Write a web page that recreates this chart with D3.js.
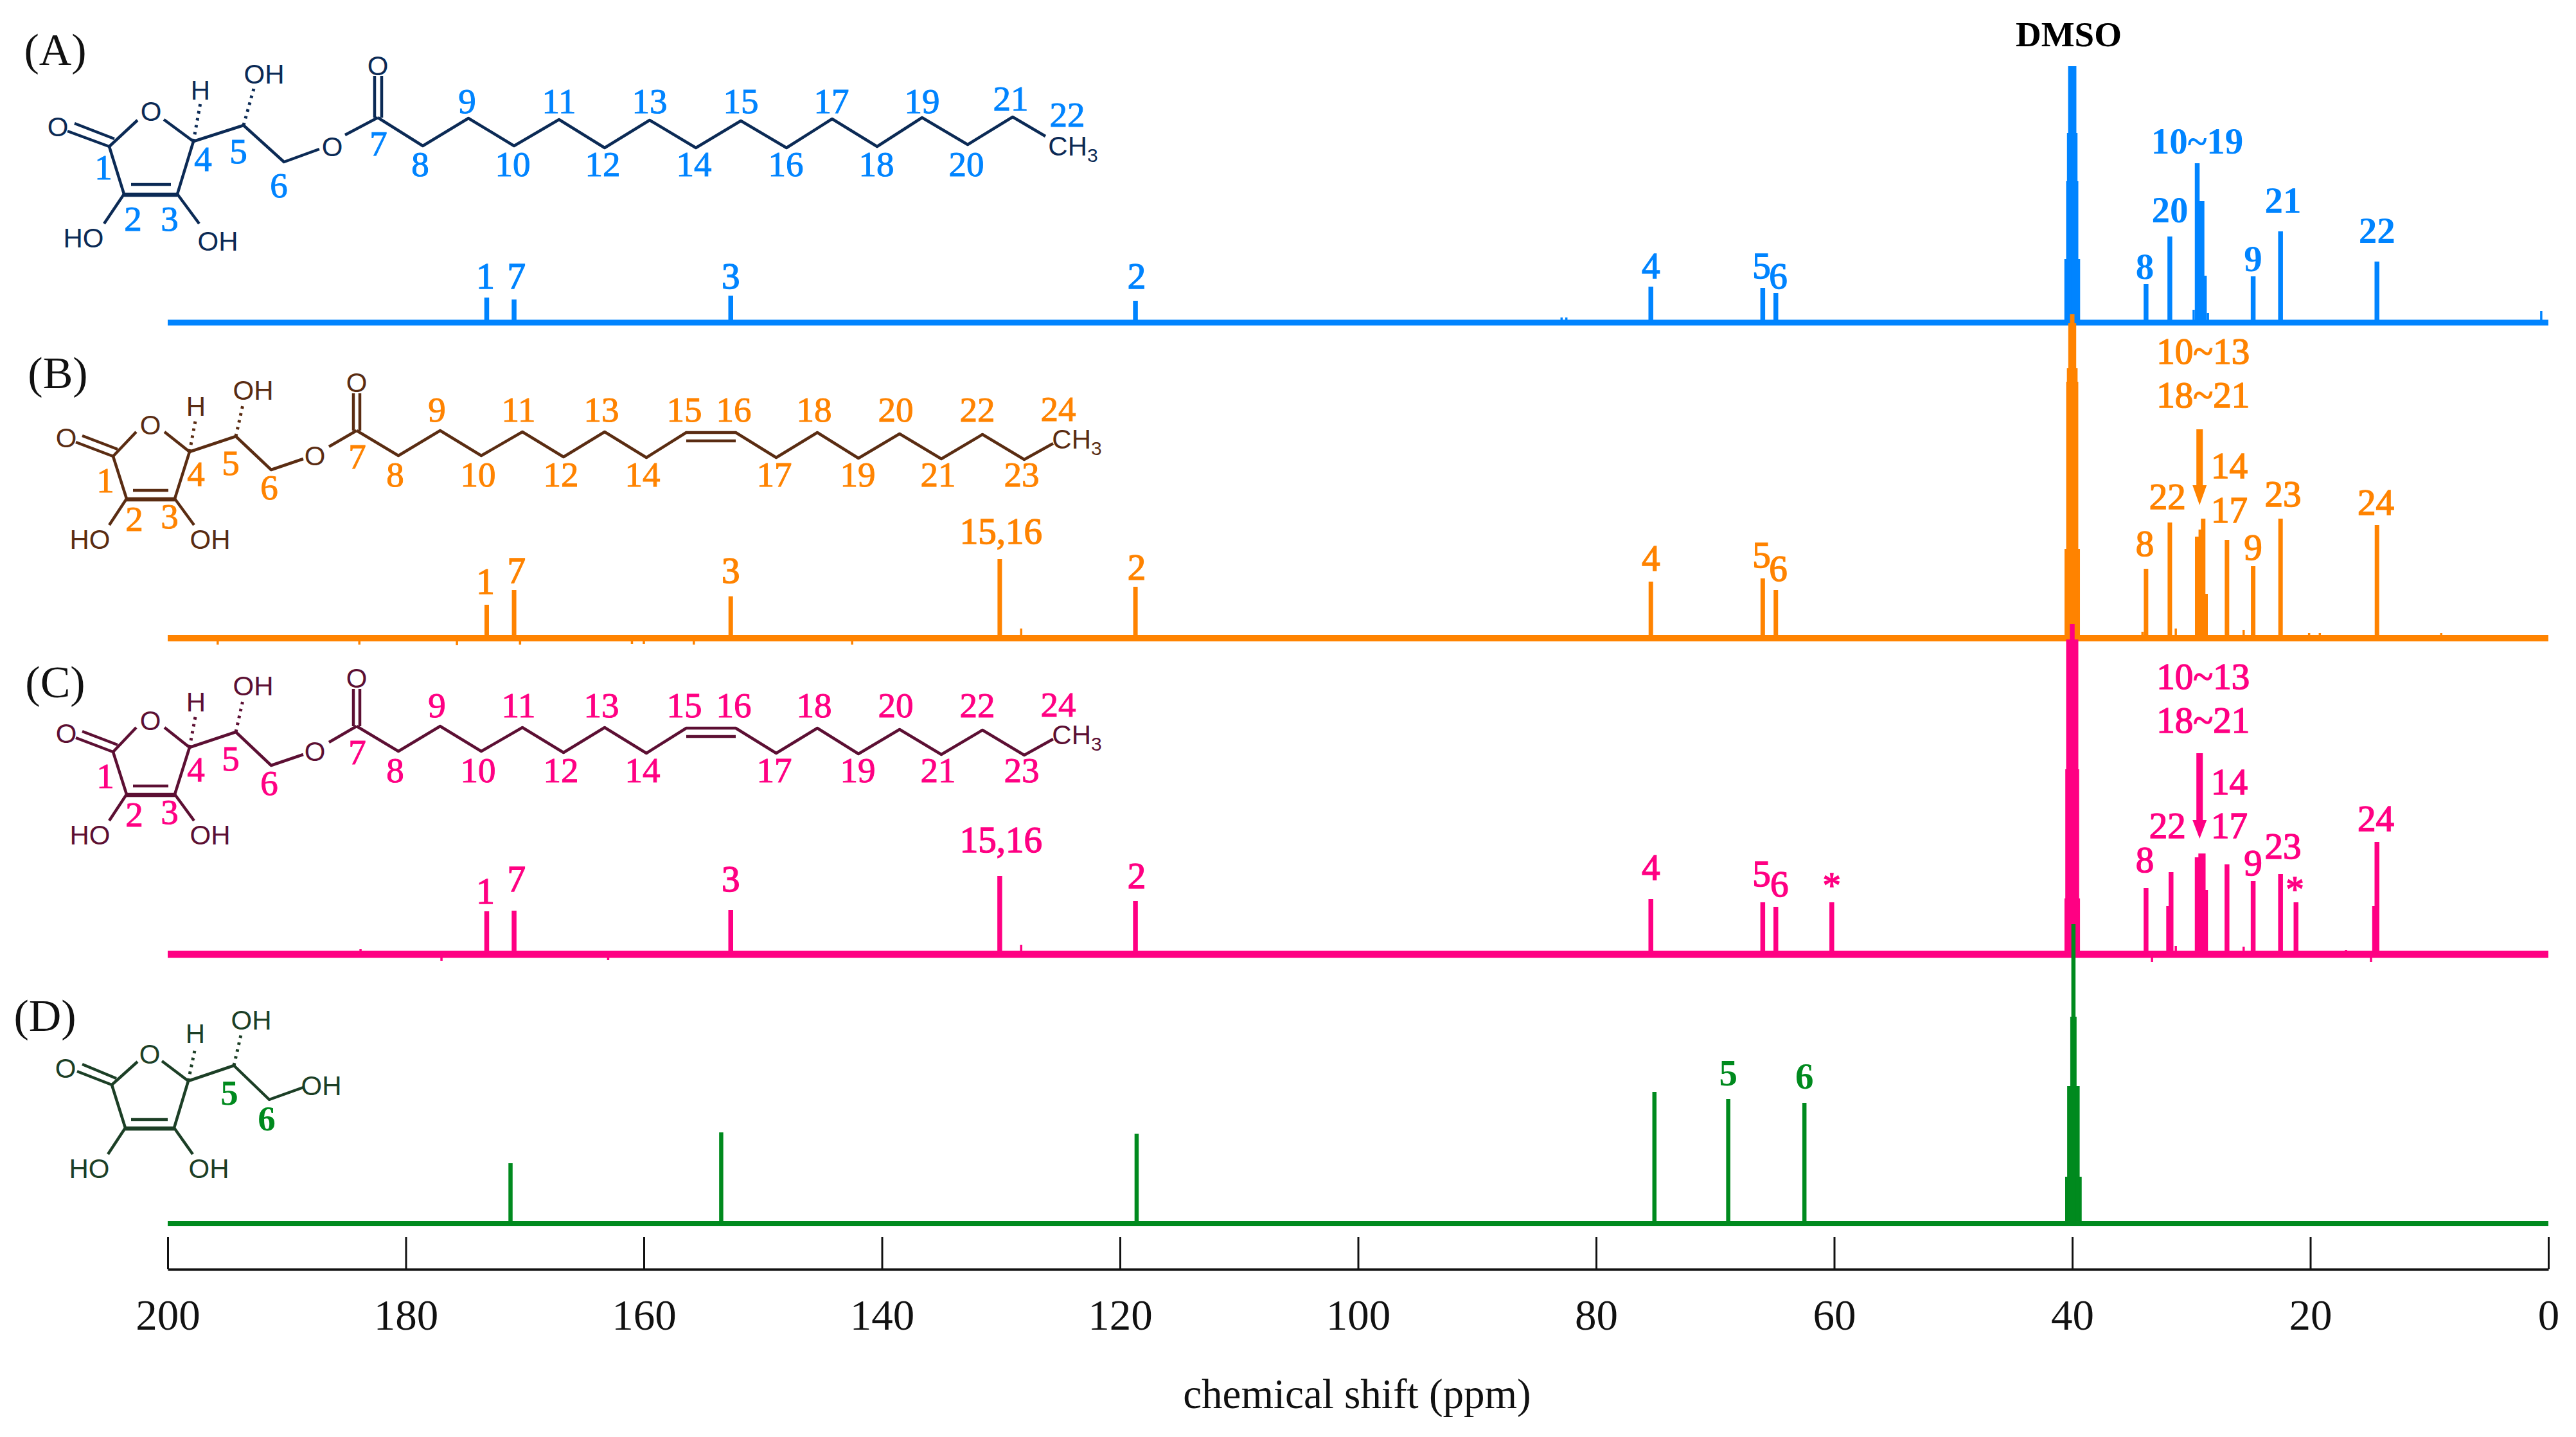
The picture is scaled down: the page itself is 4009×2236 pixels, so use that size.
<!DOCTYPE html>
<html>
<head>
<meta charset="utf-8">
<script src="https://cdn.jsdelivr.net/npm/d3@7"></script>
<style>
  body { margin: 0; background: #fff; }
  text { font-family: "Liberation Serif", serif; }
  .atom { font-family: "Liberation Sans", sans-serif; }
</style>
</head>
<body>
<svg id="chart" width="4009" height="2236"></svg>
<script>
// ---- axis
const ppmTicks = [200, 180, 160, 140, 120, 100, 80, 60, 40, 20, 0];

// ---- peaks: chemical shift (ppm) and intensity (0-100 = spectrum height)
const shiftsA = [173.2, 170.9, 152.7, 118.7, 75.4, 66.0, 64.9, 33.8, 31.8, 29.5, 29.3, 29.1, 28.9, 24.8, 22.5, 14.4];
const heightsA = [7.8, 7.2, 8.4, 6.8, 11.2, 10.8, 9.2, 12, 26.8, 49.6, 37.8, 37.8, 14.6, 14.4, 28.4, 19];
const shiftsB = [173.2, 170.9, 152.7, 130.1, 118.7, 75.4, 66.0, 64.9, 33.8, 31.8, 29.5, 29.2, 29.0, 28.8, 27.0, 24.8, 22.5, 14.4];
const heightsB = [10.4, 15, 13, 24.6, 16, 17.6, 18.6, 15, 21.6, 36, 31.6, 33.8, 37.2, 13.8, 30.6, 22.4, 37.2, 35.2];
const shiftsC = [173.2, 170.9, 152.7, 130.1, 118.7, 75.4, 66.0, 64.9, 60.2, 33.8, 31.7, 31.9, 29.5, 29.2, 29.0, 28.8, 27.0, 24.8, 22.5, 21.2, 14.4, 14.6];
const heightsC = [13.4, 13.6, 13.8, 24.4, 16.6, 17.2, 16.2, 14.8, 16.2, 20.6, 25.6, 15, 30.2, 31.4, 31.4, 20, 28, 22.8, 25, 16.2, 35, 15];
const shiftsD = [171.2, 153.5, 118.6, 75.1, 68.9, 62.5];
const heightsD = [18.8, 28.4, 28, 41, 38.8, 37.6];

// ---- DMSO multiplet, drawn as stacked lines
const dmsoShiftsA = [40.46, 39.54, 40.31, 39.69, 40.24, 39.76, 40.146, 39.854];
const dmsoHeightsA = [19.8, 19.8, 44, 44, 59, 59, 79.8, 79.8];
const dmsoShiftsB = [40.46, 39.54, 40.32, 39.68, 40.26, 39.74, 40.146, 39.854, 40.0];
const dmsoHeightsB = [27.8, 27.8, 79.8, 79.8, 84, 84, 98, 98, 100.8];
const dmsoShiftsC = [40.45, 39.55, 40.38, 39.62, 40.31, 39.69, 40.0];
const dmsoHeightsC = [17.4, 17.4, 57.6, 57.6, 98, 98, 102.8];
const dmsoShiftsD = [40.42, 39.38, 40.25, 39.55, 39.99, 39.81, 39.9];
const dmsoHeightsD = [14.6, 14.6, 42.8, 42.8, 64.4, 64.4, 93.2];

// ---- small bumps and dips in the baselines
const minorShiftsA = [82.9, 82.5, 29.8, 28.6, 0.6];
const minorHeightsA = [1.6, 1.6, 4, 3, 3.6];
const minorShiftsB = [195.8, 183.9, 175.7, 170.4, 161, 160, 155.8, 142.5, 128.3, 34.1, 31.3, 25.6, 20.1, 19.2, 9];
const minorHeightsB = [-2, -2, -2.2, -2, -1.8, -1.8, -2, -2, 3, 2, 3, 2.6, 1.6, 1.6, 1.6];
const minorShiftsC = [183.8, 177, 163, 128.3, 33.3, 31.3, 25.6, 17, 14.9];
const minorHeightsC = [1.6, -2, -1.8, 3, -2.4, 2.6, 2.4, 1.4, -2.4];
const minorShiftsD = [];
const minorHeightsD = [];

// ---- peak labels: text, ppm, height in intensity units
const labelsA = [['1', 173.3, 14.4], ['7', 170.7, 14.4], ['3', 152.7, 14.4], ['2', 118.6, 14.4], ['4', 75.4, 17.6], ['5', 66.1, 17.6], ['6', 64.7, 14.4],
  ['8', 33.9, 17.4], ['20', 31.8, 35], ['10~19', 29.5, 56.4], ['9', 24.8, 19.8], ['21', 22.3, 38], ['22', 14.4, 28.6]];
const labelsB = [['1', 173.3, 17.6], ['7', 170.7, 21], ['3', 152.7, 21], ['15,16', 130, 33.2], ['2', 118.6, 22], ['4', 75.4, 24.8], ['5', 66.1, 25.8], ['6', 64.7, 21.6],
  ['10~13', 29, 89.2], ['18~21', 29, 75.6], ['14', 26.8, 53.6], ['22', 32, 44], ['17', 26.8, 39.8], ['23', 22.3, 44.8], ['8', 33.9, 29.4], ['9', 24.8, 28.2], ['24', 14.5, 42.2]];
const labelsC = [['1', 173.3, 19.6], ['7', 170.7, 23.4], ['3', 152.7, 23.4], ['15,16', 130, 35.6], ['2', 118.6, 24.4], ['4', 75.4, 27], ['5', 66.1, 25], ['6', 64.6, 21.8], ['*', 60.2, 23.4],
  ['10~13', 29, 86.4], ['18~21', 29, 72.8], ['14', 26.8, 53.6], ['22', 32, 40], ['17', 26.8, 40], ['23', 22.3, 33.6], ['8', 33.9, 29.4], ['9', 24.8, 28.4], ['*', 21.3, 22.2], ['24', 14.5, 42.2]];
const labelsD = [['5', 68.9, 46.8], ['6', 62.5, 45.8]];
const dmsoLabel = ['DMSO', 40.3, 89.8];

const svg = d3.select('#chart');
const serif = '"Liberation Serif", serif';

const xScale = d3.scaleLinear().domain([200, 0]).range([261, 3966]);
const yScale = d3.scaleLinear().domain([0, 100]).range([0, -500]);

// boldFrom: labels at or below this shift are set bold
const panels = [
  { name: '(A)', shifts: shiftsA, heights: heightsA, dmsoS: dmsoShiftsA, dmsoH: dmsoHeightsA, minorS: minorShiftsA, minorH: minorHeightsA, labels: labelsA,
    color: '#0084ff', base: 502, thick: 9, peakW: 7.5, boldFrom: 50, halo: 1.5, tagX: 86, tagY: 77 },
  { name: '(B)', shifts: shiftsB, heights: heightsB, dmsoS: dmsoShiftsB, dmsoH: dmsoHeightsB, minorS: minorShiftsB, minorH: minorHeightsB, labels: labelsB,
    color: '#ff8300', base: 993, thick: 10, peakW: 7, boldFrom: -1, halo: 1.5, tagX: 90, tagY: 580,
    arrow: [65, 47.6, 41.4] },
  { name: '(C)', shifts: shiftsC, heights: heightsC, dmsoS: dmsoShiftsC, dmsoH: dmsoHeightsC, minorS: minorShiftsC, minorH: minorHeightsC, labels: labelsC,
    color: '#ff0083', base: 1485, thick: 11, peakW: 7.5, boldFrom: -1, halo: 1.5, tagX: 86, tagY: 1061,
    arrow: [62.6, 41.8, 36] },
  { name: '(D)', shifts: shiftsD, heights: heightsD, dmsoS: dmsoShiftsD, dmsoH: dmsoHeightsD, minorS: minorShiftsD, minorH: minorHeightsD, labels: labelsD,
    color: '#008a1e', base: 1904, thick: 8, peakW: 6.5, boldFrom: 200, halo: 0, tagX: 70, tagY: 1580 }
];

// spectra, later ones sit on top of earlier ones
panels.forEach(function (p) {
  const g = svg.append('g').attr('transform', `translate(0,${p.base})`);

  g.append('line')
    .attr('x1', xScale(200)).attr('x2', xScale(0))
    .attr('stroke', p.color).attr('stroke-width', p.thick);

  g.selectAll('line.minor')
    .data(d3.range(p.minorS.length))
    .join('line')
    .attr('class', 'minor')
    .attr('x1', i => xScale(p.minorS[i])).attr('x2', i => xScale(p.minorS[i]))
    .attr('y1', 0).attr('y2', i => yScale(p.minorH[i]))
    .attr('stroke', p.color).attr('stroke-width', 3.5);

  g.selectAll('line.dmso')
    .data(d3.range(p.dmsoS.length))
    .join('line')
    .attr('class', 'dmso')
    .attr('x1', i => xScale(p.dmsoS[i])).attr('x2', i => xScale(p.dmsoS[i]))
    .attr('y1', 0).attr('y2', i => yScale(p.dmsoH[i]))
    .attr('stroke', p.color).attr('stroke-width', p.peakW);

  g.selectAll('line.peak')
    .data(d3.range(p.shifts.length))
    .join('line')
    .attr('class', 'peak')
    .attr('x1', i => xScale(p.shifts[i])).attr('x2', i => xScale(p.shifts[i]))
    .attr('y1', 0).attr('y2', i => yScale(p.heights[i]))
    .attr('stroke', p.color).attr('stroke-width', p.peakW);

  g.selectAll('text.peaklabel')
    .data(p.labels)
    .join('text')
    .attr('class', 'peaklabel')
    .attr('x', d => xScale(d[1]))
    .attr('y', d => yScale(d[2]))
    .attr('dy', d => d[0] === '*' ? '0.5em' : '0.34em')
    .attr('text-anchor', 'middle')
    .attr('font-size', 57)
    .attr('font-weight', d => d[1] <= p.boldFrom ? 'bold' : 'normal')
    .attr('fill', p.color)
    .attr('stroke', p.color)
    .attr('stroke-width', d => d[1] <= p.boldFrom ? 0 : p.halo)
    .text(d => d[0]);

  // arrow pointing at the crowded CH2 signals
  if (p.arrow) {
    const ax = xScale(29.3);
    const [top, neck, tip] = p.arrow.map(yScale);
    g.append('path')
      .attr('d', `M${ax - 5},${top}L${ax + 5},${top}L${ax + 5},${neck}L${ax + 11},${neck}L${ax},${tip}L${ax - 11},${neck}L${ax - 5},${neck}Z`)
      .attr('fill', p.color);
  }

  svg.append('text')
    .attr('x', p.tagX).attr('y', p.tagY).attr('dy', '0.34em')
    .attr('text-anchor', 'middle')
    .attr('font-size', 70)
    .attr('fill', '#111')
    .text(p.name);
});

// DMSO title uses the top spectrum's baseline
svg.append('text')
  .attr('x', xScale(dmsoLabel[1]))
  .attr('y', panels[0].base + yScale(dmsoLabel[2]))
  .attr('dy', '0.34em')
  .attr('text-anchor', 'middle')
  .attr('font-size', 55)
  .attr('font-weight', 'bold')
  .attr('fill', '#000')
  .text(dmsoLabel[0]);

// x axis, ticks point up
const xAxisG = svg.append('g')
  .attr('transform', 'translate(0,1975)')
  .call(d3.axisBottom(xScale)
    .tickValues(ppmTicks)
    .tickFormat(d3.format('d'))
    .tickSizeInner(-50)
    .tickSizeOuter(0)
    .tickPadding(46));
xAxisG.select('.domain').attr('stroke', '#111').attr('stroke-width', 4);
xAxisG.selectAll('.tick line').attr('stroke', '#111').attr('stroke-width', 3);
xAxisG.selectAll('.tick text').attr('font-size', 67).attr('font-family', serif).attr('fill', '#111');

svg.append('text')
  .attr('x', 2112).attr('y', 2171).attr('dy', '0.3em')
  .attr('text-anchor', 'middle')
  .attr('font-size', 65)
  .attr('fill', '#111')
  .text('chemical shift (ppm)');

// ---- structural formulas (pictures next to the spectra, not data)
const polyLine = d3.line();

function drawMolecule(cfg) {
  const g = svg.append('g').attr('transform', `translate(0,${cfg.dy || 0})`);
  g.selectAll('path.bond')
    .data(cfg.bonds)
    .join('path')
    .attr('class', 'bond')
    .attr('d', polyLine)
    .attr('fill', 'none')
    .attr('stroke', cfg.ink)
    .attr('stroke-width', 4.5)
    .attr('stroke-linejoin', 'round');
  g.selectAll('path.hash')
    .data(cfg.hashes)
    .join('path')
    .attr('class', 'hash')
    .attr('d', polyLine)
    .attr('fill', 'none')
    .attr('stroke', cfg.ink)
    .attr('stroke-width', 5)
    .attr('stroke-dasharray', '4 7');
  cfg.atoms.forEach(function (a) {
    const t = g.append('text')
      .attr('class', 'atom')
      .attr('x', a[1]).attr('y', a[2]).attr('dy', '0.36em')
      .attr('text-anchor', 'middle')
      .attr('font-size', 42)
      .attr('fill', cfg.ink);
    if (a[0] === 'CH3') {
      t.append('tspan').text('CH');
      t.append('tspan').attr('font-size', 30).attr('dy', 10).text('3');
    } else {
      t.text(a[0]);
    }
  });
  g.selectAll('text.num')
    .data(cfg.nums)
    .join('text')
    .attr('class', 'num')
    .attr('x', d => d[1]).attr('y', d => d[2]).attr('dy', '0.34em')
    .attr('text-anchor', 'middle')
    .attr('font-size', 55)
    .attr('font-weight', cfg.numWeight || 'normal')
    .attr('fill', cfg.numColor)
    .attr('stroke', cfg.numColor)
    .attr('stroke-width', cfg.numWeight ? 0 : 1)
    .text(d => d[0]);
}

const bondsA = [
  [[170, 228], [214, 187]], [[255, 186], [301, 220], [276, 302], [193, 302], [170, 228]],
  [[170, 228], [105, 204]], [[178, 216], [116, 192]],
  [[204, 287], [266, 287]], [[193, 304], [276, 304]],
  [[193, 302], [162, 348]], [[276, 302], [310, 348]],
  [[301, 220], [379, 195], [442, 252], [497, 232]],
  [[537, 210], [588, 183]], [[583, 183], [583, 118]], [[594, 183], [594, 118]],
  [[588, 183], [658, 227], [729, 184], [800, 227], [870, 186], [941, 230], [1011, 187], [1083, 230], [1153, 188], [1224, 230], [1295, 185], [1365, 228], [1435, 183], [1506, 225], [1576, 182], [1627, 212]]
];
const hashesA = [[[301, 220], [312, 160]], [[379, 195], [395, 138]]];
const atomsA = [['O', 90, 197], ['O', 235, 173], ['HO', 130, 370], ['OH', 339, 375], ['H', 312, 140], ['OH', 411, 115], ['O', 517, 228], ['O', 588, 102], ['CH3', 1670, 227]];
const numsA = [['1', 161, 260], ['2', 207, 340], ['3', 264, 340], ['4', 316, 247], ['5', 371, 235], ['6', 434, 288], ['7', 589, 223], ['8', 654, 255],
  ['9', 727, 157], ['10', 798, 255], ['11', 870, 157], ['12', 938, 255], ['13', 1011, 157], ['14', 1080, 255], ['15', 1153, 157], ['16', 1223, 255],
  ['17', 1294, 157], ['18', 1364, 255], ['19', 1435, 157], ['20', 1504, 255], ['21', 1573, 153], ['22', 1661, 178]];

const bondsB = [
  [[176, 710], [212, 672]], [[256, 672], [295, 703], [272, 776], [197, 776], [176, 710]],
  [[176, 710], [118, 688]], [[183, 699], [128, 678]],
  [[207, 763], [262, 763]], [[197, 778], [272, 778]],
  [[197, 776], [170, 817]], [[272, 776], [302, 817]],
  [[295, 703], [367, 679], [422, 731], [472, 714]],
  [[512, 695], [555, 670]], [[550, 670], [550, 612]], [[560, 670], [560, 612]],
  [[555, 670], [620, 709], [685, 670], [749, 709], [813, 672], [877, 711], [941, 672], [1006, 712], [1068, 673], [1145, 673], [1208, 712], [1272, 673], [1336, 713], [1400, 675], [1465, 714], [1529, 676], [1594, 715], [1639, 690]],
  [[1068, 686], [1145, 686]]
];
const hashesB = [[[295, 703], [305, 650]], [[367, 679], [378, 630]]];
const atomsB = [['O', 103, 681], ['O', 234, 661], ['HO', 140, 839], ['OH', 327, 839], ['H', 305, 632], ['OH', 394, 607], ['O', 490, 709], ['O', 555, 595], ['CH3', 1676, 683]];
const numsB = [['1', 164, 747], ['2', 209, 807], ['3', 264, 803], ['4', 305, 737], ['5', 359, 720], ['6', 419, 758], ['7', 556, 710], ['8', 615, 738],
  ['9', 680, 637], ['10', 744, 738], ['11', 807, 637], ['12', 873, 738], ['13', 936, 637], ['14', 1000, 738], ['15', 1065, 637], ['16', 1142, 637],
  ['17', 1205, 738], ['18', 1267, 637], ['19', 1335, 738], ['20', 1394, 637], ['21', 1460, 738], ['22', 1521, 637], ['23', 1590, 738], ['24', 1647, 636]];

const bondsD = [
  [[174, 1688], [214, 1652]], [[252, 1651], [293, 1682], [271, 1755], [195, 1755], [174, 1688]],
  [[174, 1688], [120, 1667]], [[181, 1678], [128, 1656]],
  [[204, 1742], [261, 1742]], [[195, 1757], [271, 1757]],
  [[195, 1755], [168, 1796]], [[271, 1755], [300, 1796]],
  [[293, 1682], [364, 1658], [419, 1711], [472, 1692]]
];
const hashesD = [[[293, 1682], [304, 1630]], [[364, 1658], [376, 1606]]];
const atomsD = [['O', 102, 1662], ['O', 233, 1640], ['HO', 139, 1818], ['OH', 325, 1818], ['H', 304, 1608], ['OH', 391, 1587], ['OH', 500, 1689]];
const numsD = [['5', 357, 1700], ['6', 415, 1740]];

drawMolecule({ bonds: bondsA, hashes: hashesA, atoms: atomsA, nums: numsA, ink: '#0b2a55', numColor: '#0084ff' });
drawMolecule({ bonds: bondsB, hashes: hashesB, atoms: atomsB, nums: numsB, ink: '#5a2c12', numColor: '#ff8300' });
drawMolecule({ bonds: bondsB, hashes: hashesB, atoms: atomsB, nums: numsB, ink: '#5c0f33', numColor: '#ff0083', dy: 460 });
drawMolecule({ bonds: bondsD, hashes: hashesD, atoms: atomsD, nums: numsD, ink: '#1c3f26', numColor: '#008a1e', numWeight: 'bold' });
</script>
</body>
</html>
